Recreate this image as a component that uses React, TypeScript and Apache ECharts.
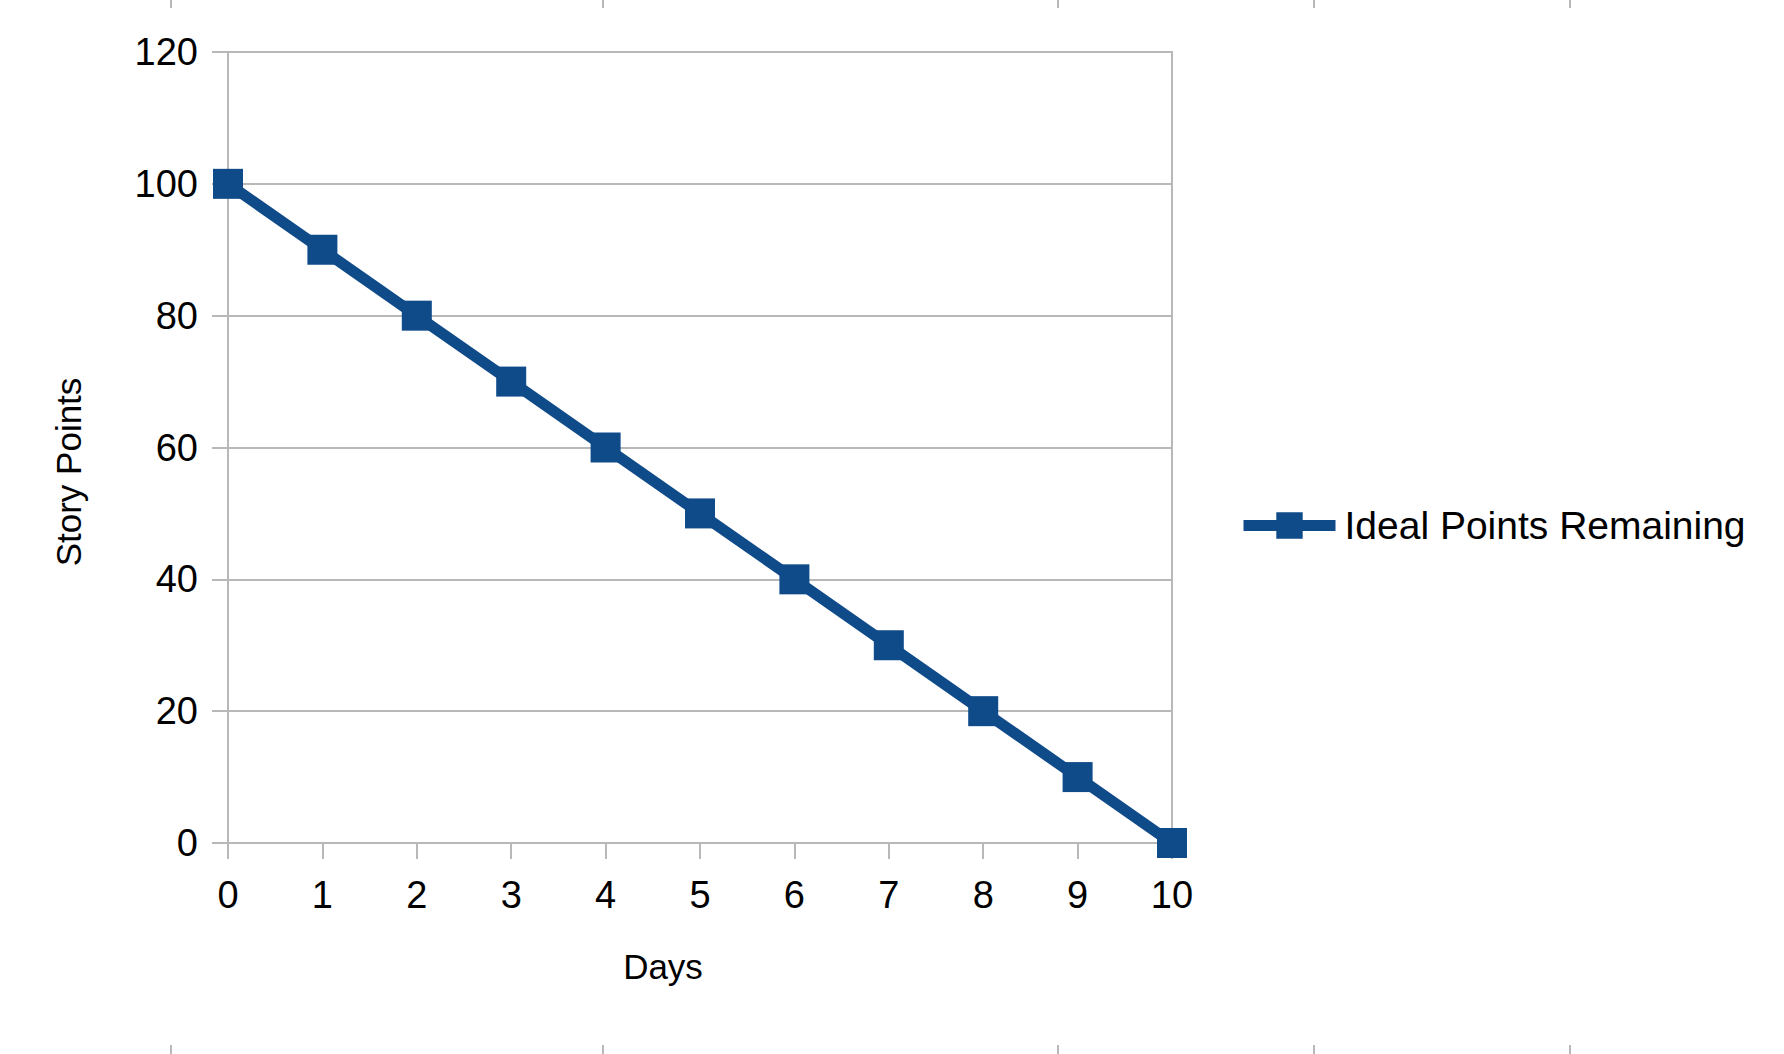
import React, { useEffect, useRef } from "react";
import * as echarts from "echarts";

// Burndown: ideal story points remaining per day
const days: number[] = [0, 1, 2, 3, 4, 5, 6, 7, 8, 9, 10];
const idealPointsRemaining: number[] = [100, 90, 80, 70, 60, 50, 40, 30, 20, 10, 0];
const seriesName = "Ideal Points Remaining";
const xAxisTitle = "Days";
const yAxisTitle = "Story Points";

// page-break marks along the top and bottom edges of the sheet
const pageMarksX: number[] = [171, 603, 1058, 1314, 1570];

const FONT = "Liberation Sans";
const BLUE = "#0f4a89";
const GRID_GRAY = "#b8b8b8";

export default function App() {
  const ref = useRef<HTMLDivElement>(null);

  useEffect(() => {
    if (!ref.current) return;
    const chart = echarts.init(ref.current, undefined, { renderer: "svg" });

    const marks: any[] = [];
    pageMarksX.forEach((x) => {
      marks.push({
        type: "line",
        shape: { x1: x, y1: 0, x2: x, y2: 8 },
        style: { stroke: GRID_GRAY, lineWidth: 2 },
      });
      marks.push({
        type: "line",
        shape: { x1: x, y1: 1045, x2: x, y2: 1054 },
        style: { stroke: GRID_GRAY, lineWidth: 2 },
      });
    });

    chart.setOption({
      animation: false,
      backgroundColor: "#ffffff",
      textStyle: { fontFamily: FONT, color: "#000" },
      grid: {
        left: 228,
        right: 612,
        top: 52,
        bottom: 211,
        show: true,
        borderColor: GRID_GRAY,
        borderWidth: 2,
        containLabel: false,
      },
      legend: {
        show: true,
        data: [seriesName],
        left: 1233,
        top: 501,
        itemWidth: 92,
        itemHeight: 33,
        lineStyle: { width: 11, color: BLUE },
        textStyle: {
          fontFamily: FONT,
          fontSize: 39,
          color: "#000",
          padding: [0, 0, 0, 4],
        },
      },
      xAxis: {
        type: "value",
        min: 0,
        max: 10,
        interval: 1,
        axisLine: { show: true, lineStyle: { color: GRID_GRAY, width: 2 } },
        axisTick: { show: true, length: 16, lineStyle: { color: GRID_GRAY, width: 2 } },
        splitLine: { show: false },
        axisLabel: { margin: 33, fontFamily: FONT, fontSize: 38, color: "#000" },
      },
      yAxis: {
        type: "value",
        min: 0,
        max: 120,
        interval: 20,
        axisLine: { show: true, lineStyle: { color: GRID_GRAY, width: 2 } },
        axisTick: { show: true, length: 16, lineStyle: { color: GRID_GRAY, width: 2 } },
        splitLine: { show: true, lineStyle: { color: GRID_GRAY, width: 2 } },
        axisLabel: { margin: 30, fontFamily: FONT, fontSize: 38, color: "#000" },
      },
      graphic: [
        {
          type: "text",
          x: 68,
          y: 472,
          rotation: Math.PI / 2,
          style: {
            text: yAxisTitle,
            fontFamily: FONT,
            fontSize: 35,
            fill: "#000",
            align: "center",
            verticalAlign: "middle",
          },
        },
        {
          type: "text",
          x: 663,
          y: 966,
          style: {
            text: xAxisTitle,
            fontFamily: FONT,
            fontSize: 35,
            fill: "#000",
            align: "center",
            verticalAlign: "middle",
          },
        },
        ...marks,
      ],
      series: [
        {
          name: seriesName,
          type: "line",
          data: days.map((d, i) => [d, idealPointsRemaining[i]]),
          symbol: "rect",
          symbolSize: 30,
          showSymbol: true,
          clip: false,
          lineStyle: { color: BLUE, width: 11 },
          itemStyle: { color: BLUE },
          z: 3,
        },
      ],
    });

    return () => chart.dispose();
  }, []);

  return (
    <div
      ref={ref}
      style={{ position: "fixed", left: 0, top: 0, width: 1784, height: 1054 }}
    />
  );
}
